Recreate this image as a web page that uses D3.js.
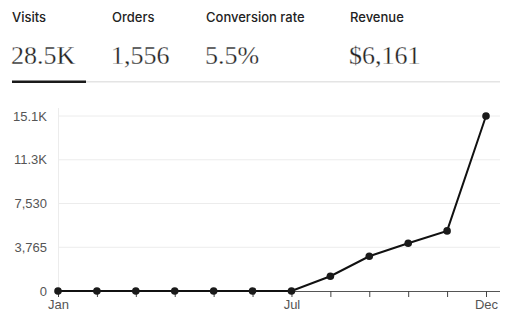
<!DOCTYPE html>
<html><head><meta charset="utf-8">
<script src="https://cdn.jsdelivr.net/npm/d3@7"></script>
<style>
html,body{margin:0;padding:0;background:#fff;}
svg{display:block;}
</style></head>
<body>
<svg id="c" width="512" height="326"></svg>
<script>
const kpiLabels = ["Visits", "Orders", "Conversion rate", "Revenue"];
const kpiValues = ["28.5K", "1,556", "5.5%", "$6,161"];
const months = ["Jan","Feb","Mar","Apr","May","Jun","Jul","Aug","Sep","Oct","Nov","Dec"];
const visits = [0, 0, 0, 0, 0, 0, 0, 1270, 2990, 4110, 5170, 15060];
const yTicks = [0, 3765, 7530, 11295, 15060];
const yTickLabels = ["0", "3,765", "7,530", "11.3K", "15.1K"];
const xLabelMonths = ["Jan", "Jul", "Dec"];

const svg = d3.select("#c");

// KPI header
const kpiX = [12, 112, 206, 350];
const g = svg.append("g");
kpiLabels.forEach((t, i) => {
  g.append("text").attr("x", kpiX[i]).attr("y", 21.5)
    .attr("font-family", "Inter, 'Noto Sans', sans-serif")
    .attr("font-weight", 500).attr("font-size", 13).attr("fill", "#222").text(t);
  g.append("text").attr("x", kpiX[i] - 1).attr("y", 64)
    .attr("font-family", "'Liberation Serif', 'DejaVu Serif', serif")
    .attr("font-size", 26).attr("fill", "#222")
    .attr("stroke", "#fff").attr("stroke-width", 0.3).text(kpiValues[i]);
});
g.append("rect").attr("x", 86).attr("y", 81).attr("width", 414).attr("height", 1.5).attr("fill", "#e4e4e4");
g.append("rect").attr("x", 12).attr("y", 80.5).attr("width", 74).attr("height", 2.5).attr("fill", "#1a1a1a");

// Chart
const x = d3.scalePoint().domain(months).range([58, 486]);
const y = d3.scaleLinear().domain([0, 15060]).range([291, 116]);

// gridlines
svg.append("g").selectAll("line").data(yTicks.slice(1)).join("line")
  .attr("x1", 58).attr("x2", 500).attr("y1", d => y(d)).attr("y2", d => y(d))
  .attr("stroke", "#ececec").attr("stroke-width", 1);
// y axis line
svg.append("line").attr("x1", 58.5).attr("x2", 58.5).attr("y1", 108).attr("y2", 291)
  .attr("stroke", "#ececec");

const yAxis = d3.axisLeft(y).tickValues(yTicks)
  .tickFormat((d, i) => yTickLabels[i]).tickSize(0).tickPadding(11);
const ya = svg.append("g").attr("transform", "translate(58,0)").call(yAxis);
ya.select(".domain").remove();
ya.selectAll("text").attr("font-family", "'Liberation Sans', Arial, sans-serif")
  .attr("font-size", 13).attr("fill", "#555");

// x axis
const xAxis = d3.axisBottom(x).tickSize(6).tickSizeOuter(0)
  .tickFormat(d => xLabelMonths.includes(d) ? d : "").tickPadding(3);
const xa = svg.append("g").attr("transform", "translate(0,291)").call(xAxis);
xa.select(".domain").attr("d", "M58,0.5H500").attr("stroke", "#555");
xa.selectAll(".tick line").attr("stroke", "#444");
xa.selectAll("text").attr("font-family", "'Liberation Sans', Arial, sans-serif")
  .attr("font-size", 13).attr("fill", "#555");

// line
const line = d3.line().x((d, i) => x(months[i])).y(d => y(d));
svg.append("path").datum(visits).attr("d", line)
  .attr("fill", "none").attr("stroke", "#111").attr("stroke-width", 2);
svg.append("g").selectAll("circle").data(visits).join("circle")
  .attr("cx", (d, i) => x(months[i])).attr("cy", d => y(d)).attr("r", 3.8)
  .attr("fill", "#1a1a1a");
</script>
</body></html>
